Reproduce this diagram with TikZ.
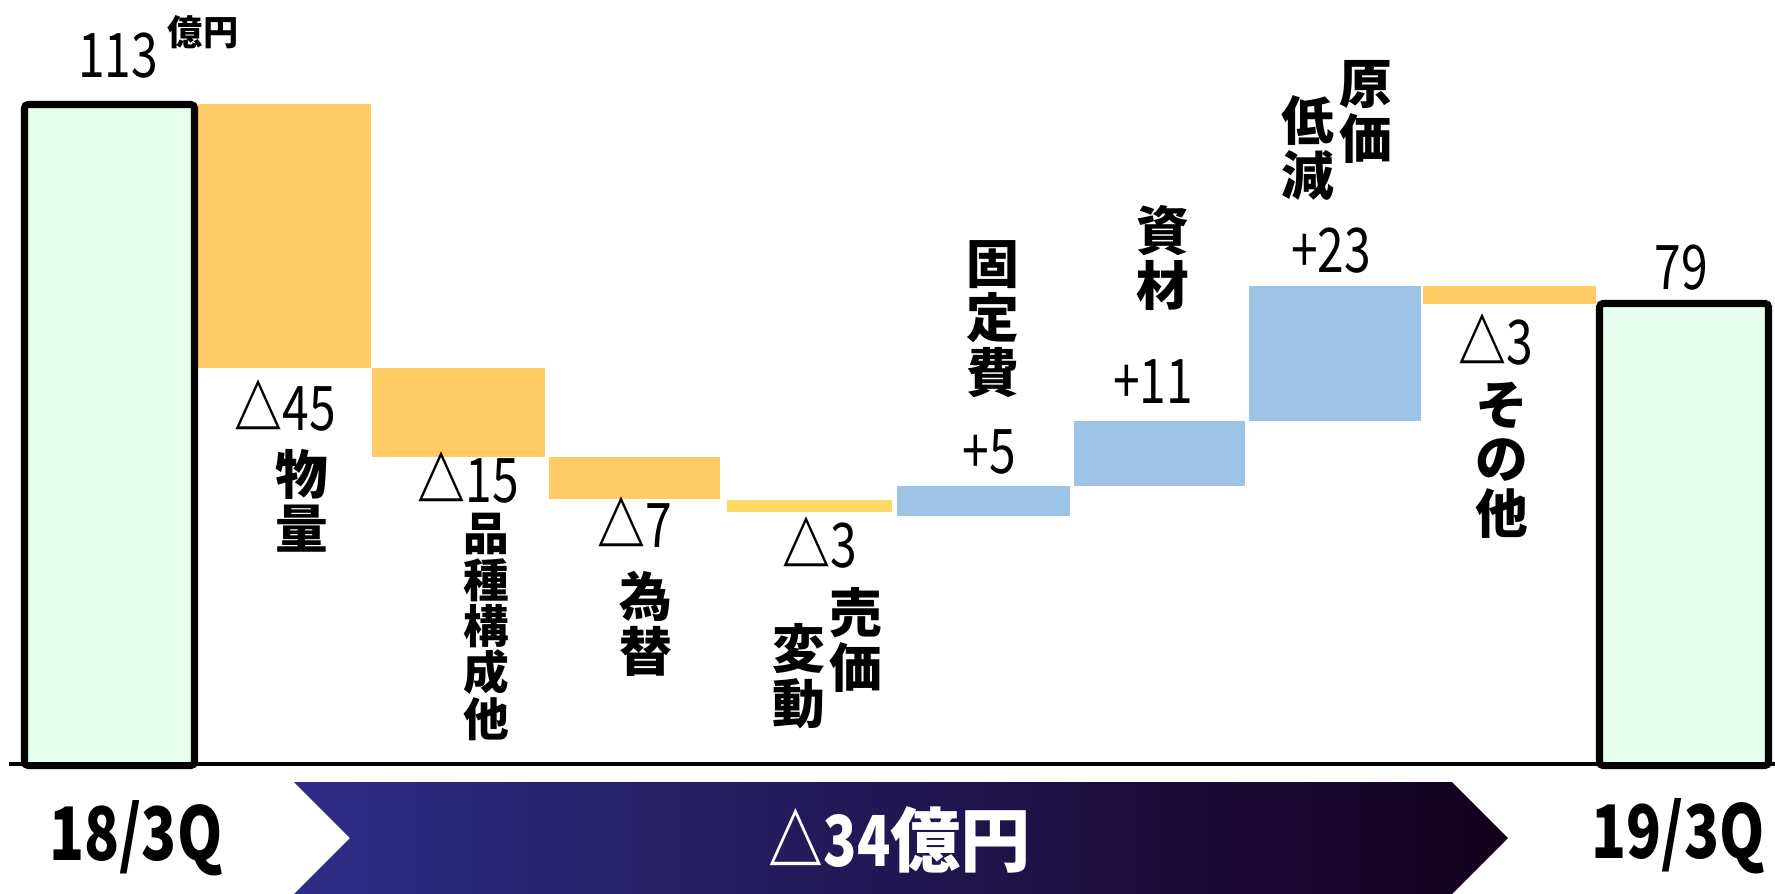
\documentclass[tikz,border=0pt]{standalone}
\usepackage{fontspec}
\setmainfont{Noto Sans CJK JP}
\newfontfamily\numfont[FakeStretch=0.78]{Noto Sans CJK JP}
\newcommand{\tri}{{\bfseries △}}
\definecolor{dropc}{HTML}{FFCB66}
\definecolor{thinc}{HTML}{FFD966}
\definecolor{gainc}{HTML}{9DC3E6}
\definecolor{totc}{HTML}{E6FFEE}
\definecolor{arrl}{RGB}{46,45,135}
\definecolor{arrm}{RGB}{40,38,115}
\definecolor{arrr}{RGB}{20,0,28}
\tikzset{
  total/.style={draw=black,line width=2pt,fill=totc,rounded corners=1pt},
  val/.style={font=\numfont\fontsize{17.5}{19}\selectfont,inner sep=0pt},
  lbl/.style={font=\bfseries\fontsize{15}{15.5}\selectfont,align=center,inner sep=0pt},
  lblsmall/.style={font=\bfseries\fontsize{13}{13.2}\selectfont,align=center,inner sep=0pt},
  period/.style={font=\numfont\bfseries\fontsize{21}{23}\selectfont,inner sep=0pt}
}
\begin{document}
\begin{tikzpicture}[x=0.01cm,y=-0.01cm]
      \useasboundingbox (0,0) rectangle (1775,893);
      \fill[dropc] (198,104) rectangle (371,368);
      \fill[dropc] (372,368) rectangle (545,457);
      \fill[dropc] (549,457) rectangle (720,499);
      \fill[thinc] (727,500) rectangle (892,512);
      \fill[gainc] (897,486) rectangle (1070,516);
      \fill[gainc] (1074,421) rectangle (1245,486);
      \fill[gainc] (1249,286) rectangle (1421,421);
      \fill[dropc] (1423,286) rectangle (1596,304);
      \coordinate (ax0) at (9,764);
      \coordinate (ax1) at (1775,764);
      \draw[line width=1.15pt] (ax0) -- (ax1);
      \draw[total] (24.5,104.5) rectangle (194.5,765.5);
      \draw[total] (1599.5,303.5) rectangle (1768.5,765.5);
      \shade[left color=arrl,middle color=arrm,right color=arrr]
        (294,782) -- (1452,782) -- (1508,838) -- (1452,894) -- (294,894) -- (350,838) -- cycle;
      \draw
        (118,56) node[val] (v113){113}
        (203,32) node[font=\bfseries\fontsize{10}{11}\selectfont,inner sep=0pt] (unit){億円}
        (285,405) node[val] (d45){\tri45}
        (302,501) node[lbl] (lvol){物\\量}
        (468,477) node[val] (d15){\tri15}
        (486,627) node[lblsmall] (lmix){品\\種\\構\\成\\他}
        (635,522) node[val] (d7){\tri7}
        (646,624) node[lbl] (lfx){為\\替}
        (820,542) node[val] (d3a){\tri3}
        (856,640) node[lbl] (lprice){売\\価}
        (799,676) node[lbl] (lchg){変\\動}
        (989,452) node[val] (p5){+5}
        (993,319) node[lbl] (lfix){固\\定\\費}
        (1153,382) node[val] (p11){+11}
        (1163,258) node[lbl] (lmat){資\\材}
        (1331,251) node[val] (p23){+23}
        (1366,112) node[lbl] (lcost){原\\価}
        (1308,148) node[lbl] (lcut){低\\減}
        (1496,339) node[val] (d3b){\tri3}
        (1502,460) node[lbl] (lother){そ\\の\\他}
        (1681,268) node[val] (v79){79}
        (136,838) node[period] (q18){18/3Q}
        (1678,836) node[period] (q19){19/3Q}
        (900,840) node[font=\bfseries\fontsize{20}{22}\selectfont,text=white,inner sep=0pt] (diff){{\numfont △34}億円};
    \end{tikzpicture}
\end{document}
